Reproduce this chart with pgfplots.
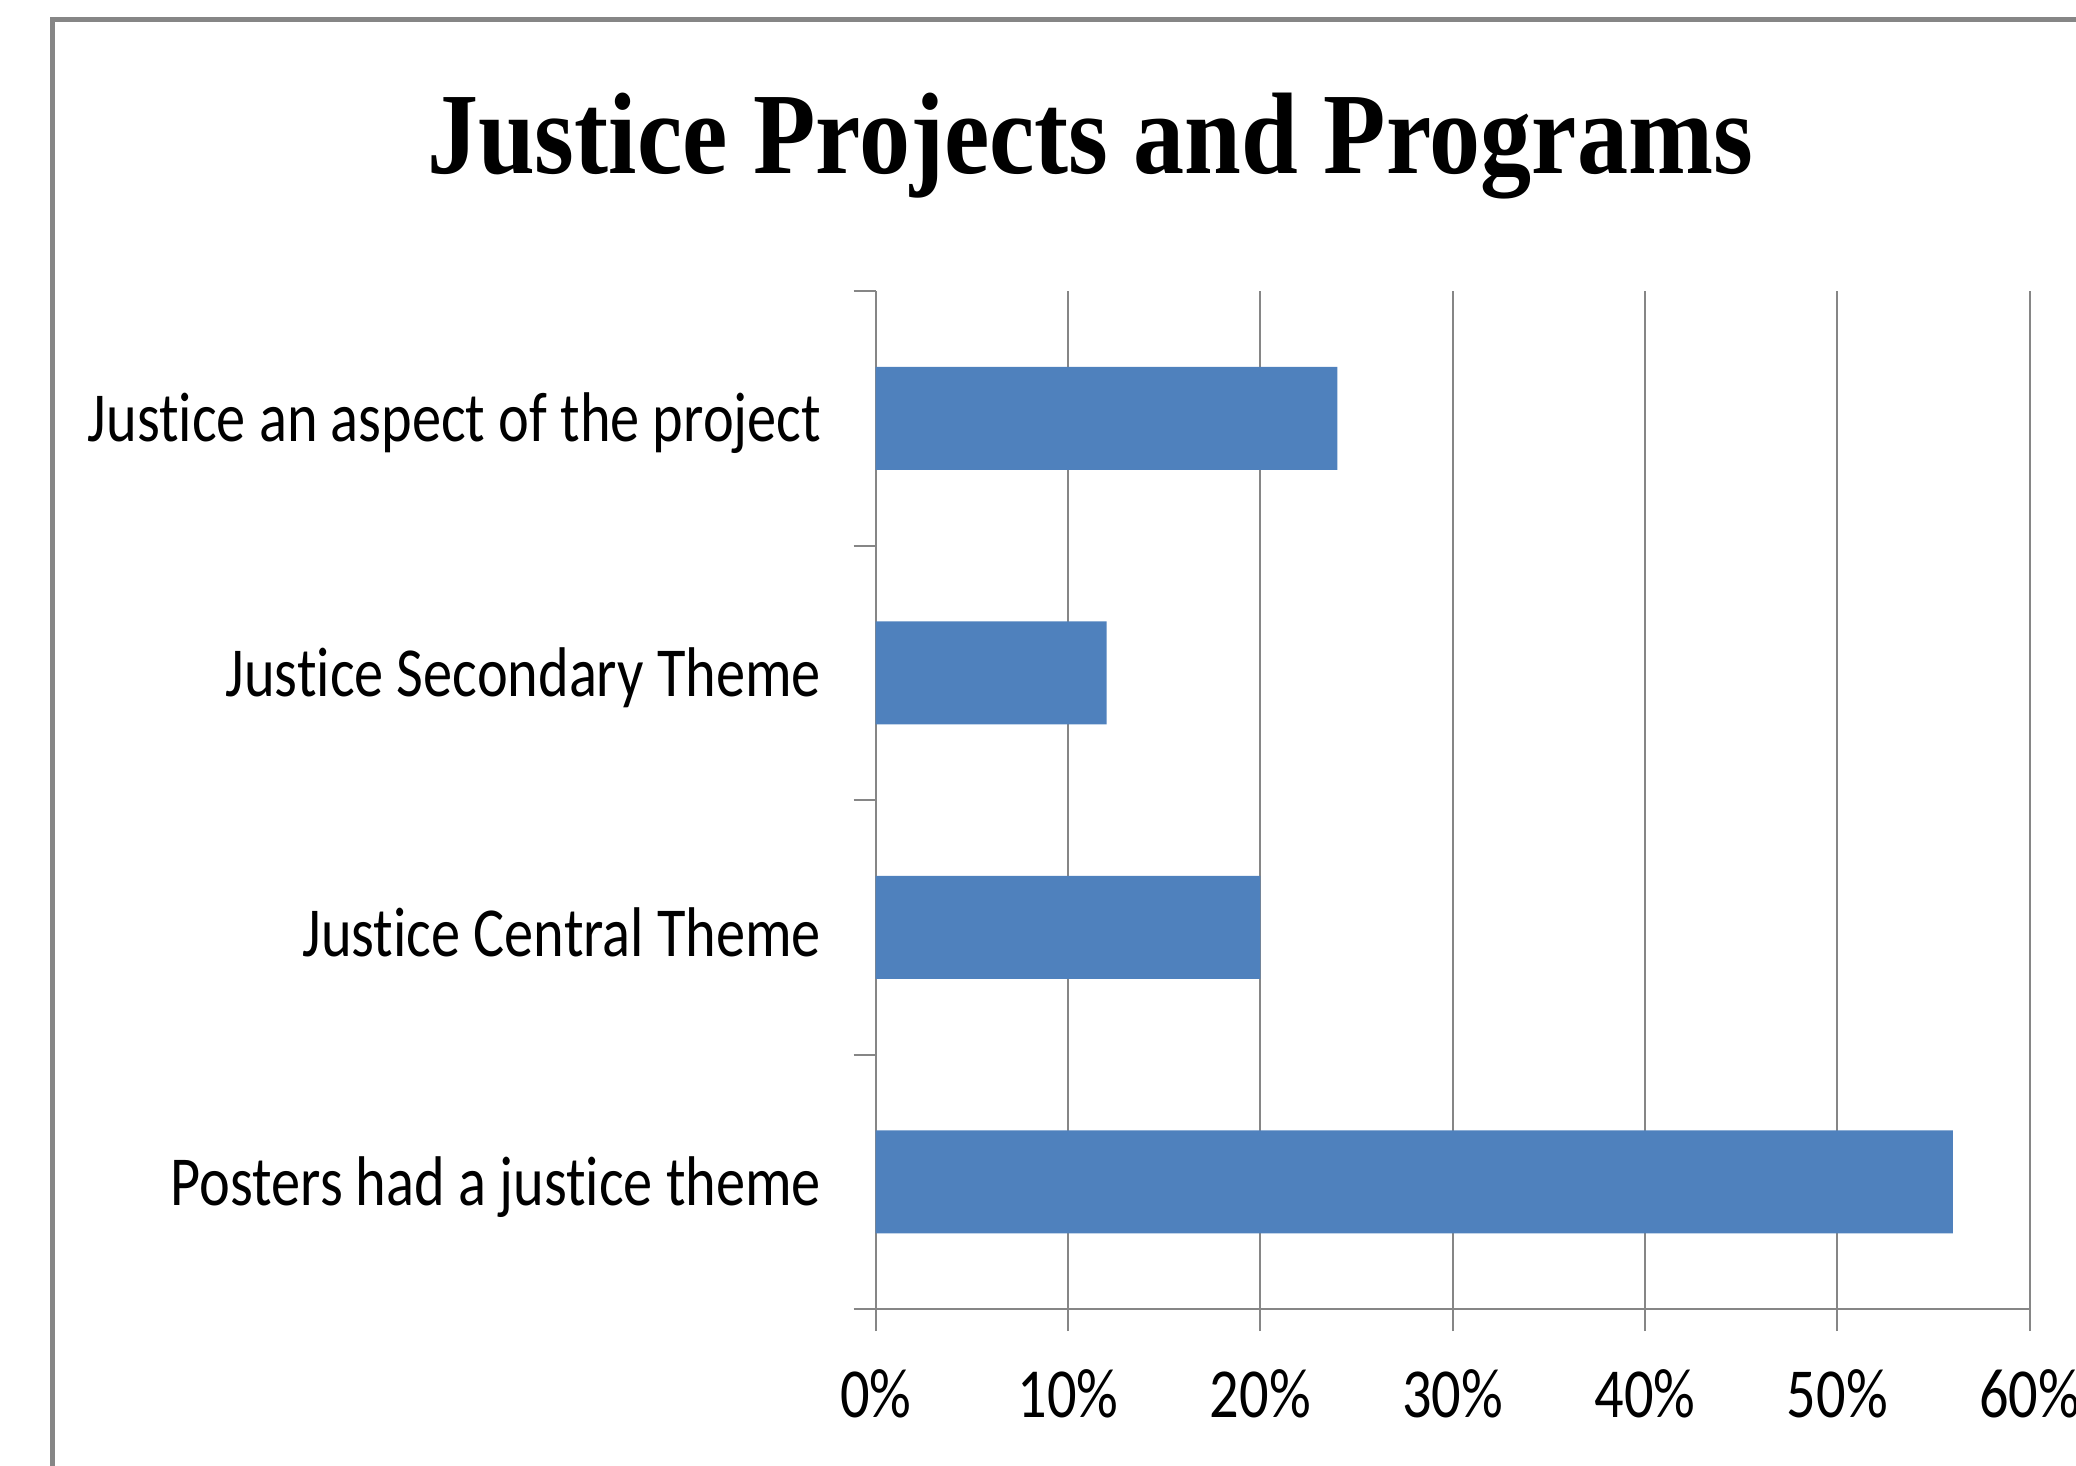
\documentclass[border=0pt]{standalone}
\usepackage{fontspec}
\setmainfont{Carlito}[FakeStretch=0.83, Ligatures=NoCommon]
\newfontfamily\titlefont{Liberation Serif}[FakeStretch=0.88]
\usepackage{pgfplots}
\usepackage{pgfplotstable}
\pgfplotsset{compat=1.18}

\definecolor{barblue}{RGB}{79,129,189}
\definecolor{axisgray}{RGB}{134,134,134}

% share of entries, category index from the bottom
\pgfplotstableread{
cat val
0 56
1 20
2 12
3 24
}\justicedata

\begin{document}
\begin{tikzpicture}
\useasboundingbox (0,0) rectangle (20.76cm,14.65cm);
% chart frame (cut off at the right and bottom)
\draw[axisgray, line width=0.05cm] (0.52cm,-1cm) |- (22cm,14.45cm);
\node[anchor=base, inner sep=0pt, font=\titlefont\bfseries\fontsize{33}{36}\selectfont]
  at (10.90cm,12.91cm) {Justice Projects and Programs};
\begin{axis}[
  at={(8.757cm,1.56cm)}, anchor=south west,
  scale only axis, width=11.54cm, height=10.18cm,
  xbar, bar width=1.03cm,
  xmin=0, xmax=60, ymin=-0.5, ymax=3.5,
  axis lines*=left,
  axis line style={axisgray, line width=0.02cm},
  tick align=outside,
  major tick length=0.22cm,
  tick style={axisgray, line width=0.02cm},
  xmajorgrids,
  major grid style={axisgray, line width=0.02cm},
  xtick={0,10,...,60},
  xticklabel={\pgfmathprintnumber{\tick}\%},
  ytick={-0.5,0.5,1.5,2.5,3.5},
  yticklabels={},
  extra y ticks={0,1,2,3},
  extra y tick labels={Posters had a justice theme, Justice Central Theme,
    Justice Secondary Theme, Justice an aspect of the project},
  extra y tick style={tick style={draw=none}},
  /pgf/number format/assume math mode=true,
  tick label style={font=\fontsize{20}{24}\selectfont, inner sep=0pt},
  xticklabel style={anchor=north, yshift=-0.38cm},
  yticklabel style={anchor=east, xshift=-0.32cm, yshift=-0.05cm},
]
\addplot[fill=barblue, draw=none] table[x=val, y=cat] {\justicedata};
\end{axis}
\end{tikzpicture}
\end{document}
